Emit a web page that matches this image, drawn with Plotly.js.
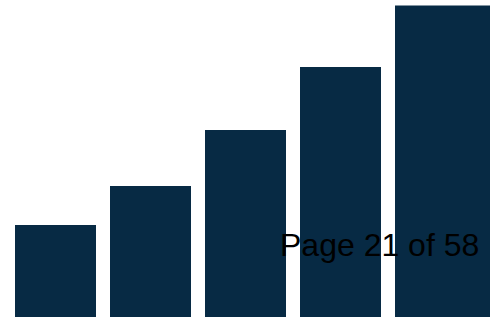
<!DOCTYPE html>
<html>
<head>
<meta charset="utf-8">
<script src="https://cdn.plot.ly/plotly-3.0.1.min.js"></script>
<style>html,body{margin:0;padding:0;background:#fff;overflow:hidden}#chart{width:490px;height:317px}</style>
</head>
<body>
<div id="chart"></div>
<script>
const categories = ["A", "B", "C", "D", "E"];
const values = [92, 131, 187, 250, 311.5];
const pageLabel = "Page 21 of 58";

const barWidths = [0.8526, 0.8526, 0.8526, 0.8526, 1.2];
const barOffsets = [-0.4263, -0.4263, -0.4263, -0.4263, -0.4263];

Plotly.newPlot('chart', [{
  type: 'bar',
  x: categories,
  y: values,
  width: barWidths,
  offset: barOffsets,
  marker: {color: '#072a44', line: {width: 0}},
  hoverinfo: 'none'
}], {
  width: 490, height: 317,
  margin: {l: 0, r: 0, t: 0, b: 0, pad: 0},
  paper_bgcolor: '#ffffff', plot_bgcolor: '#ffffff',
  showlegend: false,
  xaxis: {type: 'category', range: [-0.5842, 4.5737], visible: false, fixedrange: true},
  yaxis: {range: [0, 317], visible: false, fixedrange: true},
  annotations: [{
    text: pageLabel, xref: 'paper', yref: 'paper',
    x: 278 / 490, y: 1 - 245 / 317, xanchor: 'left', yanchor: 'middle',
    showarrow: false,
    font: {family: 'Liberation Sans, Arial, sans-serif', size: 32, color: '#000000'}
  }]
}, {displayModeBar: false, staticPlot: true});
</script>
</body>
</html>
